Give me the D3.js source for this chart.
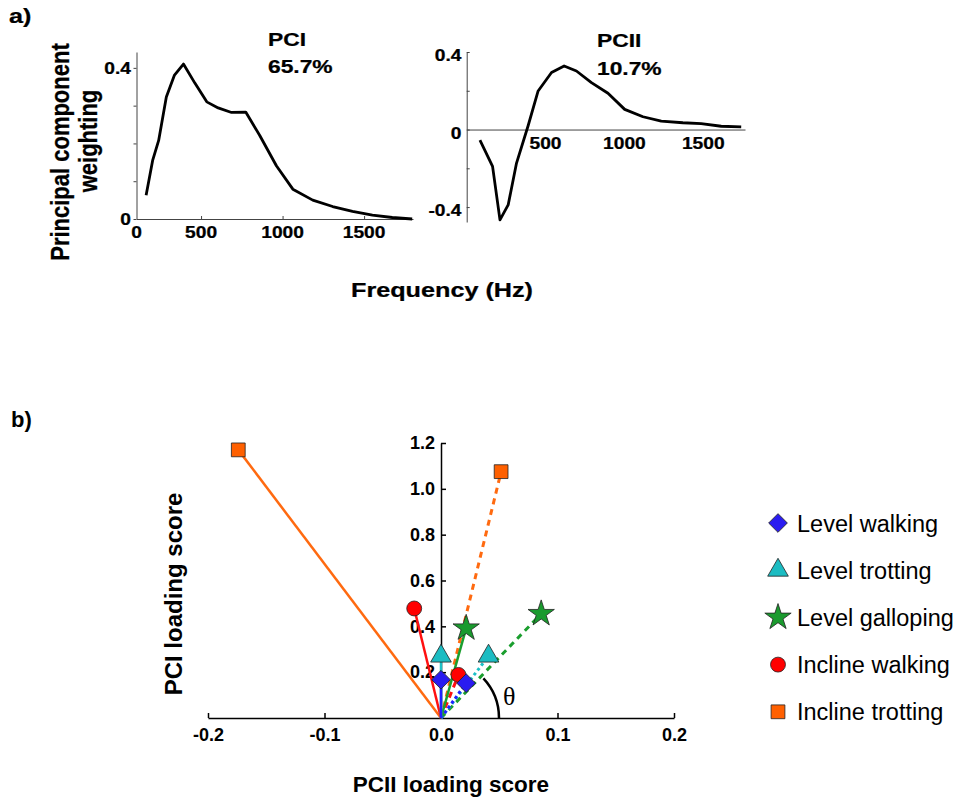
<!DOCTYPE html>
<html>
<head>
<meta charset="utf-8">
<script src="https://cdn.jsdelivr.net/npm/d3@7"></script>
<style>
  body { margin: 0; background: #fff; }
  text { font-family: 'Liberation Sans', Arial, sans-serif; fill: #000; }
</style>
</head>
<body>
<script>
// panel a: principal component weightings by frequency
const pc1Freq = [163, 203, 240, 287, 337, 392, 463, 535, 605, 687, 774, 860, 962, 1063, 1185, 1307, 1429, 1551, 1673, 1795]
const pc1Weight = [0.063, 0.155, 0.208, 0.323, 0.381, 0.410, 0.359, 0.310, 0.294, 0.282, 0.283, 0.221, 0.141, 0.079, 0.050, 0.033, 0.020, 0.010, 0.004, 0.0]
const pc2Freq = [84, 164, 211, 263, 316, 390, 453, 538, 618, 696, 791, 896, 1002, 1118, 1234, 1371, 1487, 1614, 1741]
const pc2Weight = [-0.055, -0.190, -0.466, -0.389, -0.173, 0.021, 0.199, 0.294, 0.328, 0.302, 0.242, 0.187, 0.104, 0.066, 0.043, 0.035, 0.031, 0.017, 0.014]

const pc1XTicks = [104, 500, 1000, 1500]
const pc1XTickLabels = ['0', '500', '1000', '1500']
const pc1YTicks = [0, 0.1, 0.2, 0.3, 0.4]
const pc1YTickLabels = ['0', '', '', '', '0.4']
const pc2XTicks = [500, 1000, 1500]
const pc2XTickLabels = ['500', '1000', '1500']
const pc2YTicks = [-0.4, -0.2, 0, 0.2, 0.4]
const pc2YTickLabels = ['-0.4', '', '0', '', '0.4']

// panel b: loading scores per gait (solid and dashed sets)
const gaits = ['Level walking', 'Level trotting', 'Level galloping', 'Incline walking', 'Incline trotting']
const solidPC2 = [0.0, 0.0, 0.0216, -0.023, -0.174]
const solidPC1 = [0.167, 0.270, 0.392, 0.478, 1.170]
const dashedPC2 = [0.0216, 0.0408, 0.086, 0.015, 0.0516]
const dashedPC1 = [0.152, 0.270, 0.455, 0.188, 1.075]
const bXTicks = [-0.2, -0.1, 0, 0.1, 0.2]
const bXTickLabels = ['-0.2', '-0.1', '0.0', '0.1', '0.2']
const bYTicks = [0.2, 0.4, 0.6, 0.8, 1.0, 1.2]
const bYTickLabels = ['0.2', '0.4', '0.6', '0.8', '1.0', '1.2']

const gaitColors = ['#2a1cf0', '#1cbcc2', '#1a9a2e', '#ff0000', '#ff6000']
const lineColors = ['#2020ff', '#1cc0c6', '#1a9e2e', '#ff1010', '#ff6a10']
const dashes = ['3,3', '3,3', '6,5', '6,5', '6,5']
const symbols = [d3.symbolSquare, d3.symbolTriangle, d3.symbolStar, d3.symbolCircle, d3.symbolSquare]
const symbolSizes = [175, 185, 215, 175, 190]
const symbolRotate = [45, 0, 0, 0, 0]

const SX = 1.2  // panel a text is stretched sideways

const svg = d3.select('body').append('svg')
  .attr('width', 960)
  .attr('height', 806)

function stext(x, y, str, size, anchor, weight, rotate) {
  const g = svg.append('g')
    .attr('transform', `translate(${x},${y}) scale(${SX},1)` + (rotate ? ' rotate(-90)' : ''))
  g.append('text')
    .attr('text-anchor', anchor)
    .attr('font-size', size)
    .attr('font-weight', weight)
    .attr('stroke', '#000')
    .attr('stroke-width', 0.25)
    .text(str)
}

// ---------- panel a, left (PCI)
const x1 = d3.scaleLinear().domain([104, 1800]).range([136.5, 413])
const y1 = d3.scaleLinear().domain([0, 0.442]).range([219, 52])

svg.append('g')
  .attr('transform', 'translate(136.5,0)')
  .call(d3.axisLeft(y1).tickValues(pc1YTicks).tickSize(3).tickSizeOuter(0).tickFormat(''))
svg.append('g')
  .attr('transform', 'translate(0,219)')
  .call(d3.axisTop(x1).tickValues(pc1XTicks.slice(1)).tickSize(3).tickSizeOuter(0).tickFormat(''))

pc1XTicks.forEach((v, i) => stext(x1(v), 238, pc1XTickLabels[i], 16, 'middle', 'bold'))
pc1YTicks.forEach((v, i) => stext(131, y1(v) + 6, pc1YTickLabels[i], 16, 'end', 'bold'))

svg.append('path')
  .datum(pc1Freq.map((f, i) => [f, pc1Weight[i]]))
  .attr('fill', 'none')
  .attr('stroke', '#000')
  .attr('stroke-width', 2.8)
  .attr('stroke-linejoin', 'round')
  .attr('d', d3.line().x(d => x1(d[0])).y(d => y1(d[1])))

// ---------- panel a, right (PCII)
const x2 = d3.scaleLinear().domain([0, 1765]).range([466.7, 745])
const y2 = d3.scaleLinear().domain([-0.477, 0.4]).range([222, 52])

svg.append('g')
  .attr('transform', 'translate(466.7,0)')
  .call(d3.axisRight(y2).tickValues(pc2YTicks).tickSize(3).tickSizeOuter(0).tickFormat(''))
svg.append('g')
  .attr('transform', `translate(0,${y2(0)})`)
  .call(d3.axisBottom(x2).tickValues(pc2XTicks).tickSize(0).tickFormat(''))

pc2XTicks.forEach((v, i) => stext(x2(v), 149, pc2XTickLabels[i], 16, 'middle', 'bold'))
pc2YTicks.forEach((v, i) => stext(461.5, y2(v) + 9, pc2YTickLabels[i], 16, 'end', 'bold'))

svg.append('path')
  .datum(pc2Freq.map((f, i) => [f, pc2Weight[i]]))
  .attr('fill', 'none')
  .attr('stroke', '#000')
  .attr('stroke-width', 2.8)
  .attr('stroke-linejoin', 'round')
  .attr('d', d3.line().x(d => x2(d[0])).y(d => y2(d[1])))

svg.selectAll('.domain, .tick line').attr('stroke', '#444')

// panel a texts
stext(9, 23, 'a)', 21, 'start', 'bold')
stext(268, 45.5, 'PCI', 19, 'start', 'bold')
stext(268, 72.5, '65.7%', 19, 'start', 'bold')
stext(597, 47, 'PCII', 19, 'start', 'bold')
stext(597, 75, '10.7%', 19, 'start', 'bold')
stext(69, 152, 'Principal component', 22, 'middle', 'bold', true)
stext(97, 141, 'weighting', 22, 'middle', 'bold', true)
stext(442, 297, 'Frequency (Hz)', 21, 'middle', 'bold')

// ---------- panel b
const xb = d3.scaleLinear().domain([-0.2, 0.2]).range([208, 674])
const yb = d3.scaleLinear().domain([0, 1.2]).range([718, 443])

const bx = svg.append('g')
  .attr('transform', 'translate(0,718)')
  .call(d3.axisBottom(xb).tickValues(bXTicks).tickSize(-5).tickSizeOuter(0).tickPadding(10)
    .tickFormat((d, i) => bXTickLabels[i]))
const by = svg.append('g')
  .attr('transform', 'translate(441,0)')
  .call(d3.axisLeft(yb).tickValues(bYTicks).tickSize(-5).tickSizeOuter(0).tickPadding(6)
    .tickFormat((d, i) => bYTickLabels[i]))
for (const ax of [bx, by]) {
  ax.selectAll('.domain, .tick line').attr('stroke', '#000').attr('stroke-width', 1.5)
  ax.selectAll('text')
    .attr('font-size', 18)
    .attr('font-weight', 'bold')
    .attr('font-family', "'Liberation Sans', Arial, sans-serif")
    .attr('fill', '#000')
}

// theta annotation
const arcPath = d3.path()
arcPath.arc(xb(0), yb(0), 58, -43 * Math.PI / 180, 0)
svg.append('path')
  .attr('d', arcPath.toString())
  .attr('fill', 'none')
  .attr('stroke', '#000')
  .attr('stroke-width', 2.5)
svg.append('text')
  .attr('x', 503)
  .attr('y', 705)
  .attr('font-size', 26)
  .style('font-family', "'Liberation Serif', 'DejaVu Serif', serif")
  .text('θ')

const order = [4, 3, 2, 1, 0]

// solid and dashed lines from origin
order.forEach(i => {
  svg.append('line')
    .attr('x1', xb(0)).attr('y1', yb(0))
    .attr('x2', xb(dashedPC2[i])).attr('y2', yb(dashedPC1[i]))
    .attr('stroke', lineColors[i])
    .attr('stroke-width', 3)
    .attr('stroke-dasharray', dashes[i])
})
order.forEach(i => {
  svg.append('line')
    .attr('x1', xb(0)).attr('y1', yb(0))
    .attr('x2', xb(solidPC2[i])).attr('y2', yb(solidPC1[i]))
    .attr('stroke', lineColors[i])
    .attr('stroke-width', 2.5)
})

function marker(i, x, y) {
  svg.append('path')
    .attr('d', d3.symbol().type(symbols[i]).size(symbolSizes[i])())
    .attr('transform', `translate(${x},${y}) rotate(${symbolRotate[i]})`)
    .attr('fill', gaitColors[i])
    .attr('stroke', '#222')
    .attr('stroke-width', 0.8)
}

order.forEach(i => {
  marker(i, xb(solidPC2[i]), yb(solidPC1[i]))
  marker(i, xb(dashedPC2[i]), yb(dashedPC1[i]))
})

// legend
gaits.forEach((g, i) => {
  const ly = 523 + i * 47.2
  marker(i, 778, ly)
  svg.append('text')
    .attr('x', 797)
    .attr('y', ly + 8.5)
    .attr('font-size', 23.5)
    .attr('fill', '#111')
    .text(g)
})

svg.append('text')
  .attr('x', 11)
  .attr('y', 427)
  .attr('font-size', 22)
  .attr('font-weight', 'bold')
  .text('b)')
svg.append('text')
  .attr('transform', 'translate(182,594) rotate(-90)')
  .attr('text-anchor', 'middle')
  .attr('font-size', 24)
  .attr('font-weight', 'bold')
  .text('PCI loading score')
svg.append('text')
  .attr('x', 451)
  .attr('y', 792)
  .attr('text-anchor', 'middle')
  .attr('font-size', 22.5)
  .attr('font-weight', 'bold')
  .text('PCII loading score')
</script>
</body>
</html>
